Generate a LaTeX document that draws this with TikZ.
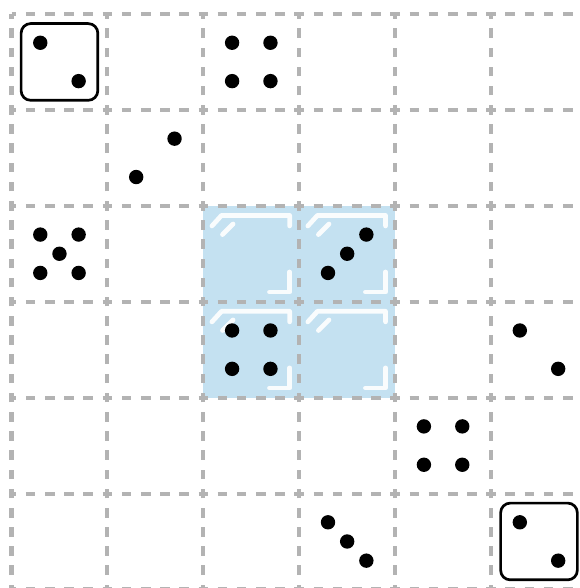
\documentclass[tikz,border=0pt]{standalone}
\usepackage{xcolor}
\usepackage{tikz}
\definecolor{gridC}{HTML}{B3B3B3}
\definecolor{iceC}{HTML}{C4E1F1}

\begin{document}
\begin{tikzpicture}[
    gridline/.style={draw=gridC, line width=1.2pt,
                     dash pattern=on 0.1cm off 0.1cm, dash phase=0.05cm},
    ice/.style={fill=iceC},
    glare/.style={draw=white, draw opacity=0.9, line width=1.4pt,
                  line cap=round, line join=round},
    diebox/.style={draw=black, line width=0.8pt, rounded corners=0.1cm},
    pip/.style={fill=black}
]
\useasboundingbox (-0.12,0.015) rectangle (5.918,6.146);

% frozen block
\fill[ice] (2,2) rectangle (4,4);
\foreach \cx/\cy in {2/4,3/4,2/3,3/3}{
  \draw[glare] (\cx+0.09,\cy-0.21) -- (\cx+0.19,\cy-0.1) -- (\cx+0.9,\cy-0.1) -- (\cx+0.9,\cy-0.21);
  \draw[glare] (\cx+0.2,\cy-0.3) -- (\cx+0.31,\cy-0.19);
  \draw[glare] (\cx+0.9,\cy-0.69) -- (\cx+0.9,\cy-0.9) -- (\cx+0.69,\cy-0.9);
}

% board
\foreach \k in {0,...,6}{
  \draw[gridline] (\k,0) -- (\k,6);
  \draw[gridline] (0,\k) -- (6,\k);
}

% dice frames
\draw[diebox] (0.1,5.1) rectangle (0.9,5.9);
\draw[diebox] (5.1,0.1) rectangle (5.9,0.9);

% pips
\foreach \px/\py in {0.3/5.7, 0.7/5.3,                    % two, framed
                     2.3/5.7, 2.7/5.7, 2.3/5.3, 2.7/5.3,  % four
                     1.7/4.7, 1.3/4.3,                    % two
                     0.3/3.7, 0.7/3.7, 0.5/3.5, 0.3/3.3, 0.7/3.3, % five
                     3.7/3.7, 3.5/3.5, 3.3/3.3,           % three
                     2.3/2.7, 2.7/2.7, 2.3/2.3, 2.7/2.3,  % four
                     5.3/2.7, 5.7/2.3,                    % two
                     4.3/1.7, 4.7/1.7, 4.3/1.3, 4.7/1.3,  % four
                     3.3/0.7, 3.5/0.5, 3.7/0.3,           % three
                     5.3/0.7, 5.7/0.3}                    % two, framed
  \fill[pip] (\px,\py) circle [radius=0.075];
\end{tikzpicture}
\end{document}
